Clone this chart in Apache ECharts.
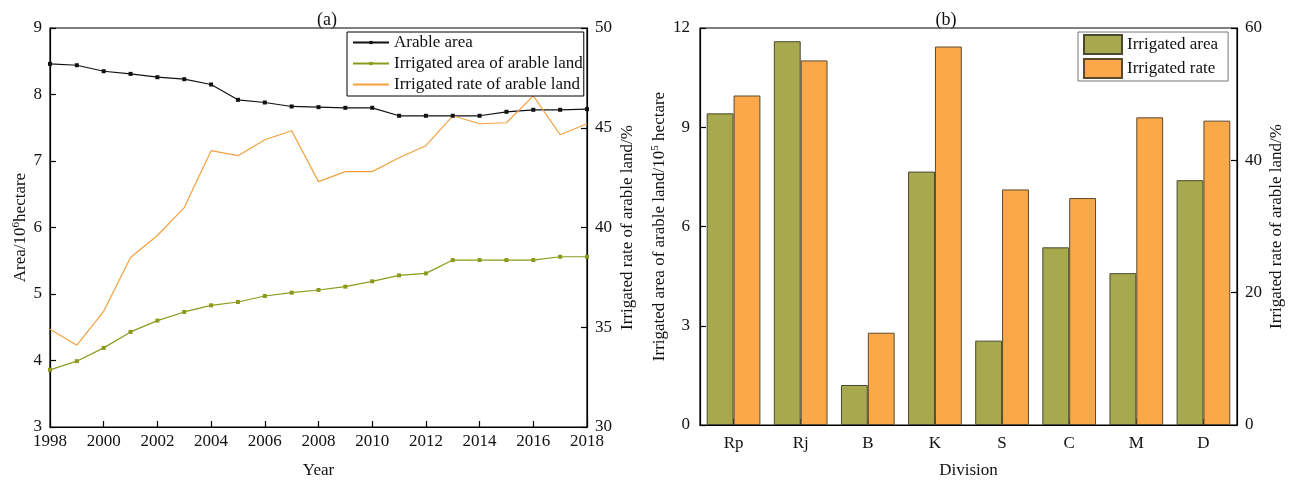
<!DOCTYPE html>
<html>
<head>
<meta charset="utf-8">
<script src="https://cdn.jsdelivr.net/npm/echarts@6/dist/echarts.min.js"></script>
<style>
  html, body { margin: 0; padding: 0; background: #fff; }
  #chart { width: 1293px; height: 480px; }
</style>
</head>
<body>
<div id="chart"></div>
<script>
// Panel (a): arable land trend, 1998-2018
const years = [1998, 1999, 2000, 2001, 2002, 2003, 2004, 2005, 2006, 2007, 2008,
               2009, 2010, 2011, 2012, 2013, 2014, 2015, 2016, 2017, 2018];
const arableArea = [8.46, 8.44, 8.35, 8.31, 8.26, 8.23, 8.15, 7.92, 7.88, 7.82, 7.81,
                    7.80, 7.80, 7.68, 7.68, 7.68, 7.68, 7.74, 7.77, 7.77, 7.78];
const irrigatedArea = [3.86, 3.99, 4.19, 4.43, 4.60, 4.73, 4.83, 4.88, 4.97, 5.02, 5.06,
                       5.11, 5.19, 5.28, 5.31, 5.51, 5.51, 5.51, 5.51, 5.56, 5.56];
const irrigatedRate = [34.9, 34.1, 35.8, 38.5, 39.6, 41.0, 43.85, 43.6, 44.4, 44.85, 42.3,
                       42.8, 42.8, 43.5, 44.1, 45.6, 45.2, 45.25, 46.6, 44.65, 45.2];

// Panel (b): by division
const divisions = ['Rp', 'Rj', 'B', 'K', 'S', 'C', 'M', 'D'];
const divIrrigatedArea = [9.42, 11.6, 1.21, 7.66, 2.55, 5.37, 4.59, 7.40];
const divIrrigatedRate = [49.8, 55.1, 13.95, 57.2, 35.6, 34.3, 46.5, 46.0];

const FONT = "'Liberation Serif', 'Times New Roman', serif";
const TXT = '#111';
const FS = 17;
const GREEN_LINE = '#8c9a1c';
const ORANGE_LINE = '#f5a040';
const GREEN_BAR = '#a6a94e';
const ORANGE_BAR = '#fba84b';

const pairs = (xs, ys) => xs.map((x, i) => [x, ys[i]]);

const axisBase = {
  axisLine: { show: true, lineStyle: { color: '#000', width: 1.2 } },
  axisTick: { show: true, inside: true, length: 6, lineStyle: { color: '#000', width: 1.2 } },
  axisLabel: { color: TXT, fontFamily: FONT, fontSize: FS },
  splitLine: { show: false },
  nameTextStyle: {
    color: TXT, fontFamily: FONT, fontSize: FS,
    rich: { sup: { fontFamily: FONT, fontSize: 11, verticalAlign: 'top', padding: [0, 0, 8, 0], color: TXT } }
  }
};

const chart = echarts.init(document.getElementById('chart'), null, { renderer: 'canvas' });

chart.setOption({
  backgroundColor: '#fff',
  animation: false,
  textStyle: { fontFamily: FONT },
  title: [
    { text: '(a)', left: 322, top: 6, textAlign: 'center',
      textStyle: { fontFamily: FONT, fontSize: 18, fontWeight: 'normal', color: TXT } },
    { text: '(b)', left: 941, top: 6, textAlign: 'center',
      textStyle: { fontFamily: FONT, fontSize: 18, fontWeight: 'normal', color: TXT } }
  ],
  grid: [
    { left: 50, right: 706, top: 28, bottom: 53, outerBoundsMode: 'none', containLabel: false,
      show: true, borderColor: '#000', borderWidth: 1.2 },
    { left: 700, right: 56, top: 28, bottom: 55, outerBoundsMode: 'none', containLabel: false,
      show: true, borderColor: '#000', borderWidth: 1.2 }
  ],
  legend: [
    {
      data: [
        { name: 'Arable area' },
        { name: 'Irrigated area of arable land' },
        { name: 'Irrigated rate of arable land', itemStyle: { opacity: 0 } }
      ],
      orient: 'vertical', left: 347, top: 32,
      itemWidth: 36, itemHeight: 4, itemGap: 4,
      padding: [2, 1, 3, 5],
      borderColor: '#000', borderWidth: 1, backgroundColor: '#fff',
      textStyle: { fontFamily: FONT, fontSize: FS, color: TXT }
    },
    {
      data: ['Irrigated area', 'Irrigated rate'],
      orient: 'vertical', left: 1078, top: 32, icon: 'rect',
      itemWidth: 38, itemHeight: 19, itemGap: 3,
      padding: [2, 10, 2, 5],
      borderColor: '#777', borderWidth: 1, backgroundColor: '#fff',
      textStyle: { fontFamily: FONT, fontSize: FS, color: TXT }
    }
  ],
  xAxis: [
    Object.assign({}, axisBase, {
      type: 'value', gridIndex: 0, min: 1998, max: 2018, interval: 2,
      name: 'Year', nameLocation: 'middle', nameGap: 35,
      axisLabel: Object.assign({}, axisBase.axisLabel, { formatter: v => String(v), margin: 6 })
    }),
    Object.assign({}, axisBase, {
      type: 'category', gridIndex: 1, data: divisions,
      name: 'Division', nameLocation: 'middle', nameGap: 37,
      axisTick: Object.assign({}, axisBase.axisTick, { alignWithLabel: true }),
      axisLabel: Object.assign({}, axisBase.axisLabel, { margin: 10 })
    })
  ],
  yAxis: [
    Object.assign({}, axisBase, {
      type: 'value', gridIndex: 0, min: 3, max: 9, interval: 1,
      name: 'Area/10{sup|6}hectare', nameLocation: 'middle', nameGap: 20,
      axisLabel: Object.assign({}, axisBase.axisLabel, { margin: 8 })
    }),
    Object.assign({}, axisBase, {
      type: 'value', gridIndex: 0, position: 'right', min: 30, max: 50, interval: 5,
      name: 'Irrigated rate of arable land/%', nameLocation: 'middle', nameGap: 32,
      axisLabel: Object.assign({}, axisBase.axisLabel, { margin: 8 })
    }),
    Object.assign({}, axisBase, {
      type: 'value', gridIndex: 1, min: 0, max: 12, interval: 3,
      name: 'Irrigated area of arable land/10{sup|5} hectare', nameLocation: 'middle', nameGap: 31,
      axisLabel: Object.assign({}, axisBase.axisLabel, { margin: 10 })
    }),
    Object.assign({}, axisBase, {
      type: 'value', gridIndex: 1, position: 'right', min: 0, max: 60, interval: 20,
      name: 'Irrigated rate of arable land/%', nameLocation: 'middle', nameGap: 31,
      axisLabel: Object.assign({}, axisBase.axisLabel, { margin: 8 })
    })
  ],
  series: [
    {
      name: 'Arable area', type: 'line', xAxisIndex: 0, yAxisIndex: 0,
      data: pairs(years, arableArea),
      symbol: 'rect', symbolSize: 4, showSymbol: true,
      lineStyle: { color: '#111', width: 1.2 },
      itemStyle: { color: '#111' }
    },
    {
      name: 'Irrigated area of arable land', type: 'line', xAxisIndex: 0, yAxisIndex: 0,
      data: pairs(years, irrigatedArea),
      symbol: 'rect', symbolSize: 4, showSymbol: true,
      lineStyle: { color: GREEN_LINE, width: 1.2 },
      itemStyle: { color: GREEN_LINE }
    },
    {
      name: 'Irrigated rate of arable land', type: 'line', xAxisIndex: 0, yAxisIndex: 1,
      data: pairs(years, irrigatedRate),
      symbol: 'none',
      lineStyle: { color: ORANGE_LINE, width: 1.2 },
      itemStyle: { color: ORANGE_LINE }
    },
    {
      name: 'Irrigated area', type: 'bar', xAxisIndex: 1, yAxisIndex: 2,
      data: divIrrigatedArea, barWidth: '40%', barGap: '0%',
      itemStyle: { color: GREEN_BAR, borderColor: '#4a4a30', borderWidth: 1 }
    },
    {
      name: 'Irrigated rate', type: 'bar', xAxisIndex: 1, yAxisIndex: 3,
      data: divIrrigatedRate, barWidth: '40%', barGap: '0%',
      itemStyle: { color: ORANGE_BAR, borderColor: '#5a4a30', borderWidth: 1 }
    }
  ]
});
</script>
</body>
</html>
